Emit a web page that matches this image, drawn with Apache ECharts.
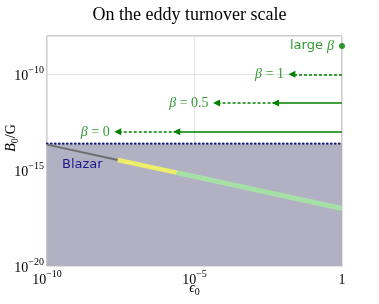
<!DOCTYPE html>
<html><head><meta charset="utf-8">
<script src="https://cdn.jsdelivr.net/npm/echarts@6/dist/echarts.min.js"></script>
<style>html,body{margin:0;padding:0;background:#fff}#c{width:379px;height:304px}</style>
</head><body><div id="c"></div>
<script>
// ---- data ----
const xRange = [1e-10, 1];
const yRange = [1e-20, 1e-8];
const blazarLimit = 2.45e-14;
const greyCurve = [[1e-10, 2.15e-14], [2.5e-8, 3.4e-15]];
const yellowCurve = [[2.5e-8, 3.4e-15], [2.5e-6, 7.4e-16]];
const greenCurve = [[2.5e-6, 7.4e-16], [1, 1e-17]];
// beta annotations: [level, solidEnd, dashedEnd]
const betaNames = ['0', '0.5', '1'];
const betaLevels = [1e-13, 3.2e-12, 1e-10];
const betaSolidEnd = [2.5e-6, 5.6e-3, 1];
const betaDashedEnd = [2.5e-8, 5.6e-5, 0.02];
const largeBeta = [1, 3e-9];

const G = '#008000';
const serif = 'Liberation Serif';
const sans = 'DejaVu Sans';
const tickRich = {
  b: {fontFamily: serif, fontSize: 14, color: '#000', lineHeight: 18, verticalAlign: 'bottom'},
  s: {fontFamily: serif, fontSize: 10, color: '#000', lineHeight: 18, verticalAlign: 'top'}
};
function expLabel(v) {
  const e = Math.round(Math.log10(v));
  if (e % 5 !== 0) return '';
  if (e === 0) return '{b|1}';
  return '{b|10}{s|' + (e < 0 ? '\u2212' : '') + Math.abs(e) + '}';
}
const arrowSym = 'path://M5,0 L10,10 L0,10 Z';
const markData = [];
betaLevels.forEach((lv, i) => {
  if (betaSolidEnd[i] < 1) {
    markData.push([{coord: [1, lv], lineStyle: {type: 'solid'}}, {coord: [betaSolidEnd[i], lv]}]);
  }
  markData.push([{coord: [betaSolidEnd[i], lv], lineStyle: {type: [3, 2]}}, {coord: [betaDashedEnd[i], lv]}]);
});
const labelData = betaLevels.map((lv, i) => ({
  value: [betaDashedEnd[i], lv],
  label: {formatter: '{i|\u03b2}{n| = ' + betaNames[i] + '}'}
}));

const chart = echarts.init(document.getElementById('c'));
chart.setOption({
  animation: false,
  title: {text: 'On the eddy turnover scale', left: 'center', top: 1,
    textStyle: {fontFamily: serif, fontSize: 18, fontWeight: 'normal', color: '#000'}},
  grid: {left: 47, right: 37, top: 36, bottom: 38, containLabel: false, outerBoundsMode: 'none',
    show: true, borderColor: '#999', borderWidth: 1, backgroundColor: 'transparent'},
  xAxis: {type: 'log', logBase: 10, min: xRange[0], max: xRange[1], interval: 5,
    axisLine: {show: false}, axisTick: {show: false},
    splitLine: {show: true, lineStyle: {color: '#e3e3e3', width: 1}},
    axisLabel: {formatter: expLabel, rich: tickRich, margin: 3},
    name: '{i|\u03f5}{s|0}', nameLocation: 'middle', nameGap: 15, nameMoveOverlap: false,
    nameTextStyle: {rich: {
      i: {fontFamily: serif, fontStyle: 'italic', fontSize: 14, color: '#000', lineHeight: 16, verticalAlign: 'top'},
      s: {fontFamily: serif, fontSize: 10, color: '#000', lineHeight: 16, verticalAlign: 'bottom'}}}
  },
  yAxis: {type: 'log', logBase: 10, min: yRange[0], max: yRange[1], interval: 5,
    axisLine: {show: false}, axisTick: {show: false},
    splitLine: {show: true, lineStyle: {color: '#e3e3e3', width: 1}},
    axisLabel: {formatter: expLabel, rich: tickRich, margin: 3},
    name: '{i|B}{s|0}{n|/G}', nameLocation: 'middle', nameGap: 27, nameRotate: 90, nameMoveOverlap: false,
    nameTextStyle: {padding: [0, 0, 0, 26], rich: {
      i: {fontFamily: serif, fontStyle: 'italic', fontSize: 14, color: '#000', lineHeight: 16, verticalAlign: 'top'},
      s: {fontFamily: serif, fontSize: 10, color: '#000', lineHeight: 16, verticalAlign: 'bottom'},
      n: {fontFamily: serif, fontSize: 14, color: '#000', lineHeight: 16, verticalAlign: 'top'}}}
  },
  series: [
    {type: 'line', z: 1, symbol: 'none', data: [[xRange[0], blazarLimit], [xRange[1], blazarLimit]],
      lineStyle: {color: '#1a1a7a', width: 2.2, type: [0.5, 3.5], cap: 'round'},
      areaStyle: {color: '#b2b1c3', opacity: 1, origin: 'start'}},
    {type: 'line', z: 2, symbol: 'none', data: greyCurve, lineStyle: {color: '#6e6e6e', width: 2}},
    {type: 'line', z: 2, symbol: 'none', data: yellowCurve, lineStyle: {color: '#eeee6a', width: 4.5}},
    {type: 'line', z: 2, symbol: 'none', data: greenCurve, lineStyle: {color: '#a6e0a6', width: 5}},
    {type: 'line', z: 3, symbol: 'none', data: [],
      markLine: {silent: true, symbol: ['none', arrowSym], symbolSize: [7, 7],
        label: {show: false}, lineStyle: {color: G, width: 1.5}, data: markData}},
    {type: 'scatter', z: 4, symbolSize: 0, data: labelData,
      label: {show: true, position: 'left', distance: 8, color: G,
        rich: {i: {fontFamily: serif, fontStyle: 'italic', fontSize: 14, color: G},
               n: {fontFamily: serif, fontSize: 14, color: G}}}},
    {type: 'scatter', z: 4, symbol: 'circle', symbolSize: 6, itemStyle: {color: G}, data: [largeBeta],
      label: {show: true, position: 'left', distance: 5, formatter: '{a|large }{i|\u03b2}',
        rich: {a: {fontFamily: sans, fontSize: 13, color: G}, i: {fontFamily: serif, fontStyle: 'italic', fontSize: 14, color: G}}}}
  ],
  graphic: [{type: 'text', left: 62, top: 158, z: 10,
    style: {text: 'Blazar', fontFamily: sans, fontSize: 13, fill: '#1a1a8c'}}]
});
</script></body></html>
